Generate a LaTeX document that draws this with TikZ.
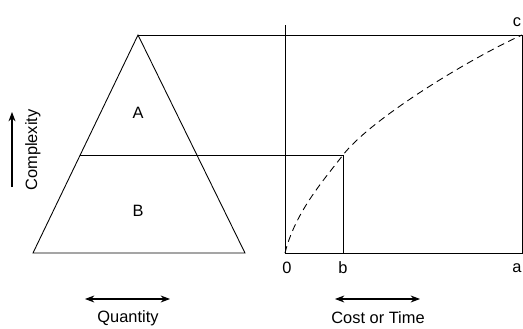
\documentclass[tikz,border=0pt]{standalone}
\usepackage{fontspec}
\setmainfont{Liberation Sans}
\usetikzlibrary{arrows.meta}
\tikzset{
  axisline/.style={line width=0.75pt},
  dimarrow/.style={line width=0.9pt},
  lbl/.style={inner sep=1pt}
}
\begin{document}
\begin{tikzpicture}[x=0.03cm, y=0.03cm, >={Stealth[length=8pt,width=6pt]},
    every node/.style={font=\fontsize{14}{16}\selectfont}]
  \useasboundingbox (0,0) rectangle (523,328);
  % triangle
  \coordinate (apex) at (138,293);
  \coordinate (baseL) at (33,75);
  \coordinate (baseR) at (245,75);
  \coordinate (midL) at (80.2,173);
  % chart
  \coordinate (orig) at (285,75);
  \coordinate (axtop) at (285,303);
  \coordinate (bpt) at (343,75);
  \coordinate (knee) at (343,173);
  \coordinate (apt) at (522,75);
  \coordinate (cpt) at (522,293);
  \draw[axisline] (baseL) -- (apex) -- (baseR) -- cycle;
  \draw[axisline] (apex) -- (cpt) -- (apt) -- (orig) -- (axtop);
  \draw[axisline] (midL) -- (knee) -- (bpt);
  \draw[axisline, dash pattern=on 6pt off 4pt]
    (orig) .. controls (295,115) and (322,146) .. (knee)
           .. controls (370,208) and (465,267) .. (cpt);
  \node[lbl] (labA) at (138,215) {A};
  \node[lbl] (labB) at (138,117) {B};
  \node[lbl] (lab0) at (287,60) {0};
  \node[lbl] (labb) at (343,60) {b};
  \node[lbl] (laba) at (517,60) {a};
  \node[lbl] (labc) at (517,306) {c};
  % complexity
  \node[lbl, rotate=90] (cplx) at (33,178) {Complexity};
  \coordinate (cxlo) at (12,141);
  \coordinate (cxhi) at (12,216);
  \draw[dimarrow, ->] (cxlo) -- (cxhi);
  % bottom arrows
  \coordinate (qL) at (85,29);
  \coordinate (qR) at (170,29);
  \coordinate (tL) at (335,29);
  \coordinate (tR) at (420,29);
  \draw[dimarrow, <->] (qL) -- (qR);
  \draw[dimarrow, <->] (tL) -- (tR);
  \node[lbl] (qty) at (128,10) {Quantity};
  \node[lbl] (cost) at (378,10) {Cost or Time};
\end{tikzpicture}
\end{document}
